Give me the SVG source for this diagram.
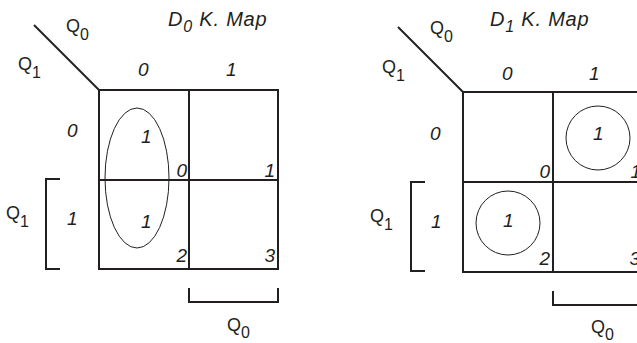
<svg xmlns="http://www.w3.org/2000/svg" width="637" height="343" viewBox="0 0 637 343">
<style>
.t{font-family:"Liberation Sans",Arial,sans-serif;font-size:18px;fill:#231f20}
.i{font-style:italic;font-size:19px}
.s{font-size:16px}
.ttl{font-size:20px;letter-spacing:0.8px}
.ln{stroke:#231f20;stroke-width:2;fill:none}
.thin{stroke:#231f20;stroke-width:1;fill:none}
</style>
<rect width="637" height="343" fill="#fff"/>
<g id="map0">
  <g id="map0-grid">
    <rect class="ln" x="99" y="90" width="179" height="179"/>
    <line class="ln" x1="189" y1="90" x2="189" y2="269"/>
    <line class="ln" x1="99" y1="180" x2="278" y2="180"/>
    <line class="ln" x1="34" y1="25" x2="99" y2="90"/>
  </g>
  <g id="map0-labels">
    <text class="t i ttl" x="168" y="26">D<tspan class="s" dy="6">0</tspan><tspan dy="-6"> K. Map</tspan></text>
    <text class="t" x="66" y="32">Q<tspan class="s" dy="8">0</tspan></text>
    <text class="t" x="18" y="70">Q<tspan class="s" dy="8">1</tspan></text>
    <text class="t i" x="138" y="76">0</text>
    <text class="t i" x="226" y="76">1</text>
    <text class="t i" x="67" y="137">0</text>
    <text class="t i" x="67" y="225">1</text>
    <text class="t i" x="141" y="143">1</text>
    <text class="t i" x="141" y="228">1</text>
    <text class="t i" x="187" y="177" text-anchor="end">0</text>
    <text class="t i" x="275" y="177" text-anchor="end">1</text>
    <text class="t i" x="187" y="262" text-anchor="end">2</text>
    <text class="t i" x="275" y="262" text-anchor="end">3</text>
  </g>
  <g id="map0-group">
    <ellipse class="thin" cx="137" cy="178" rx="32" ry="70"/>
  </g>
  <g id="map0-brackets">
    <polyline class="ln" points="60,179 46,179 46,269 60,269"/>
    <text class="t" x="6" y="219">Q<tspan class="s" dy="8">1</tspan></text>
    <polyline class="ln" points="189,288 189,302 278,302 278,288"/>
    <text class="t" x="227" y="331">Q<tspan class="s" dy="7">0</tspan></text>
  </g>
</g>
<g id="map1">
  <g id="map1-grid">
    <rect class="ln" x="463" y="92" width="180" height="180"/>
    <line class="ln" x1="553" y1="92" x2="553" y2="272"/>
    <line class="ln" x1="463" y1="182" x2="643" y2="182"/>
    <line class="ln" x1="398" y1="27" x2="463" y2="92"/>
  </g>
  <g id="map1-labels">
    <text class="t i ttl" x="490" y="26">D<tspan class="s" dy="6">1</tspan><tspan dy="-6"> K. Map</tspan></text>
    <text class="t" x="430" y="34">Q<tspan class="s" dy="8">0</tspan></text>
    <text class="t" x="382" y="73">Q<tspan class="s" dy="8">1</tspan></text>
    <text class="t i" x="502" y="80">0</text>
    <text class="t i" x="589" y="80">1</text>
    <text class="t i" x="430" y="140">0</text>
    <text class="t i" x="431" y="228">1</text>
    <text class="t i" x="593" y="140">1</text>
    <text class="t i" x="503" y="227">1</text>
    <text class="t i" x="550" y="178" text-anchor="end">0</text>
    <text class="t i" x="641" y="178" text-anchor="end">1</text>
    <text class="t i" x="550" y="265" text-anchor="end">2</text>
    <text class="t i" x="640" y="265" text-anchor="end">3</text>
  </g>
  <g id="map1-groups">
    <circle class="thin" cx="598" cy="138" r="32"/>
    <circle class="thin" cx="508" cy="223" r="32"/>
  </g>
  <g id="map1-brackets">
    <polyline class="ln" points="425,182 411,182 411,271 425,271"/>
    <text class="t" x="370" y="222">Q<tspan class="s" dy="8">1</tspan></text>
    <polyline class="ln" points="553,291 553,305 643,305"/>
    <text class="t" x="591" y="333">Q<tspan class="s" dy="7">0</tspan></text>
  </g>
</g>
</svg>
